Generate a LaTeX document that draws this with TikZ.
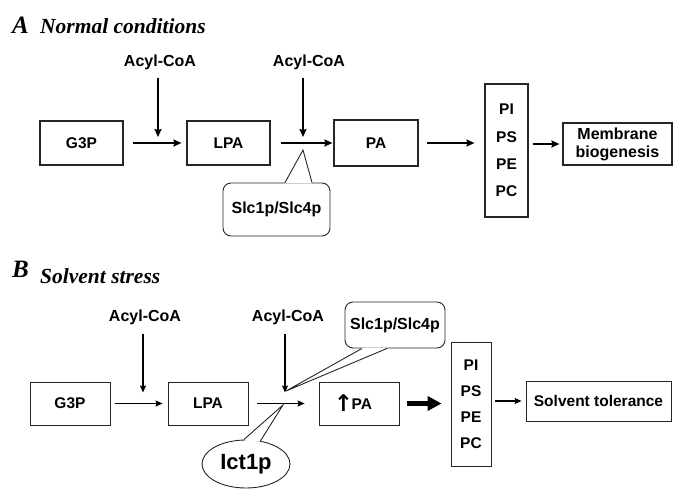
\documentclass[tikz,border=0pt]{standalone}
\usepackage{amsmath}
\usepackage{amssymb}
\usepackage{fontspec}
\setmainfont{Liberation Sans}
\newfontfamily\titlefont{Liberation Serif}
\newfontfamily\arrowfont{DejaVu Sans}
\usetikzlibrary{arrows.meta,shapes.geometric,calc}
\tikzstyle{box}     =[draw=black!85, line width=1.1pt, inner sep=0pt,
                      font=\fontsize{15.5}{18}\selectfont\bfseries, align=center]
\tikzstyle{thinbox} =[box, line width=0.8pt]
\tikzstyle{reagent} =[font=\fontsize{16}{18}\selectfont\bfseries, inner sep=1pt]
\tikzstyle{heading} =[font=\titlefont\bfseries\itshape\fontsize{21.5}{26}\selectfont,
                      anchor=base west, inner sep=0pt]
\tikzstyle{letter}  =[heading, font=\titlefont\bfseries\itshape\fontsize{25}{30}\selectfont]
\tikzstyle{bubble}  =[draw=black!85, rounded corners=8pt, line width=0.9pt,
                      font=\fontsize{16}{19}\selectfont\bfseries]
\tikzstyle{edge}    =[-{Stealth[length=8pt,width=7pt,inset=1pt]}, line width=1.7pt]
\tikzstyle{thinedge}=[-{Stealth[length=7pt,width=6pt,inset=1pt]}, line width=1.1pt]
\tikzstyle{bigedge} =[-{Triangle[length=14pt,width=14pt]}, line width=5.5pt]

\begin{document}
\begin{tikzpicture}[x=1pt,y=-1pt]
    \useasboundingbox (0,0) rectangle (673,488);

            % A: normal conditions
            \node[letter]  (lettA)  at (12,33) {A};
            \node[heading] (titleA) at (40,33) {Normal conditions};

            \node[box, minimum width=83pt, minimum height=44pt] (g3pA) at (81.5,143) {G3P};
            \node[box, minimum width=83pt, minimum height=44pt] (lpaA) at (228.5,143) {LPA};
            \node[box, minimum width=84pt, minimum height=46pt] (paA)  at (376,143) {PA};
            \node[box, minimum width=43pt, minimum height=133pt,
                  font=\fontsize{15.5}{27.3}\selectfont\bfseries] (plA) at (506.5,150.5) {PI\\PS\\PE\\PC};
            \node[box, minimum width=109pt, minimum height=42pt,
                  font=\fontsize{16}{18}\selectfont\bfseries] (memA) at (617.5,144) {Membrane\\biogenesis};

            \node[reagent] (acylA1) at (160,62) {Acyl-CoA};
            \node[reagent] (acylA2) at (309,62) {Acyl-CoA};
            \coordinate (jA1) at (158,143);
            \coordinate (jA2) at (303,143);

            \draw [edge, shorten <=7pt, shorten >=6pt] (acylA1.south -| jA1) to (jA1);
            \draw [edge, shorten <=7pt, shorten >=6pt] (acylA2.south -| jA2) to (jA2);
            \draw [edge, shorten <=9pt, shorten >=5pt] (g3pA) to (lpaA);
            \draw [edge, shorten <=10pt, shorten >=1pt] (lpaA) to (paA);
            \draw [edge, shorten <=8pt, shorten >=10pt] (paA.east) to (paA.east -| plA.west);
            \draw [edge, shorten <=4pt, shorten >=3pt] (memA.west -| plA.east) to (memA.west);

            \node[bubble, minimum width=107pt, minimum height=53pt] (slcA) at (276.5,209.5) {Slc1p/Slc4p};
            \coordinate (tipA) at (303,150);
            \fill [white] ($(slcA.north)+(8.5,0.8)$) -- (tipA) -- ($(slcA.north)+(35.5,0.8)$) -- cycle;
            \draw [black!85, line width=0.9pt] ($(slcA.north)+(8.5,0)$) -- (tipA) -- ($(slcA.north)+(35.5,0)$);

            % B: solvent stress
            \node[letter]  (lettB)  at (12,277) {B};
            \node[heading] (titleB) at (40,283) {Solvent stress};

            \node[thinbox, minimum width=80pt, minimum height=43pt] (g3pB) at (70,403.5) {G3P};
            \node[thinbox, minimum width=80pt, minimum height=43pt] (lpaB) at (208,403.5) {LPA};
            \node[thinbox, minimum width=80pt, minimum height=43pt] (paB)  at (359,403.5)
                 {\raisebox{-2.5pt}{\arrowfont\bfseries\fontsize{23}{23}\selectfont ↑}\kern-1.5pt PA\kern12pt};
            \node[thinbox, minimum width=40pt, minimum height=124pt,
                  font=\fontsize{15.5}{26}\selectfont\bfseries] (plB) at (471,404) {PI\\PS\\PE\\PC};
            \node[thinbox, minimum width=145pt, minimum height=40pt] (stB) at (598.5,401) {Solvent tolerance};

            \node[reagent] (acylB1) at (145,317) {Acyl-CoA};
            \node[reagent] (acylB2) at (288,317) {Acyl-CoA};
            \coordinate (jB1) at (143,403.5);
            \coordinate (jB2) at (285,403.5);

            \draw [thinedge, shorten <=8pt, shorten >=11pt] (acylB1.south -| jB1) to (jB1);
            \draw [thinedge, shorten <=8pt, shorten >=11pt] (acylB2.south -| jB2) to (jB2);
            \draw [thinedge, shorten <=5pt, shorten >=5pt] (g3pB) to (lpaB);
            \draw [thinedge, shorten <=9pt, shorten >=14pt] (lpaB) to (paB);
            \draw [bigedge, shorten <=8pt, shorten >=9pt] (paB.east) to (paB.east -| plB.west);
            \draw [thinedge, shorten <=4pt, shorten >=4pt] (stB.west -| plB.east) to (stB.west);

            \node[bubble, minimum width=100pt, minimum height=46pt] (slcB) at (395,325) {Slc1p/Slc4p};
            \coordinate (tipB1) at (286,391);
            \fill [white] ($(slcB.south)+(-33,-0.8)$) -- (tipB1) -- ($(slcB.south)+(-8,-0.8)$) -- cycle;
            \draw [black!85, line width=0.9pt] ($(slcB.south)+(-33,0)$) -- (tipB1) -- ($(slcB.south)+(-8,0)$);

            \node[ellipse, draw=black!85, line width=0.9pt, inner sep=0pt,
                  minimum width=88pt, minimum height=48pt,
                  font=\fontsize{22}{26}\selectfont\bfseries] (ict) at (246,464) {Ict1p};
            \coordinate (tipB2) at (283,405);
            \fill [white] ($(ict.95)!1pt!(ict.center)$) -- (tipB2) -- ($(ict.58)!1pt!(ict.center)$) -- cycle;
            \draw [black!85, line width=0.9pt] (ict.95) -- (tipB2) -- (ict.58);

    \end{tikzpicture}
\end{document}
